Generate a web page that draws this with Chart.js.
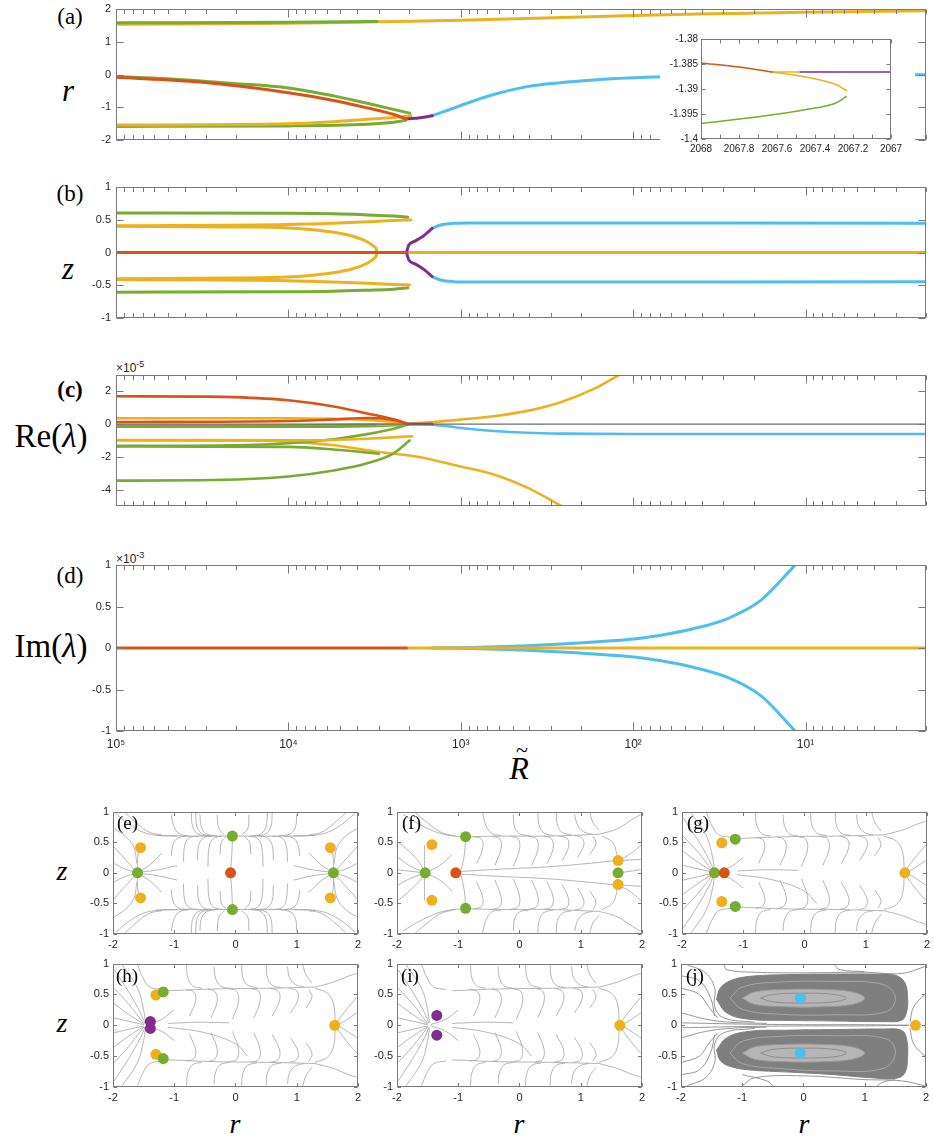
<!DOCTYPE html>
<html><head><meta charset="utf-8">
<script src="https://cdn.jsdelivr.net/npm/chart.js@4/dist/chart.umd.min.js"></script>
<style>
body{margin:0;background:#fff;}
#page{position:relative;width:934px;height:1138px;overflow:hidden;background:#fff;}
canvas{position:absolute;}
.t{position:absolute;transform:translate(-50%,-50%);white-space:nowrap;font-family:"Liberation Serif","Times New Roman",serif;color:#000;line-height:1;}
.p{position:absolute;white-space:nowrap;font-family:"Liberation Serif","Times New Roman",serif;color:#000;line-height:1;font-size:19px;}
.s{position:absolute;font-family:"Liberation Sans",Arial,sans-serif;font-size:12px;color:#262626;white-space:nowrap;line-height:1}
.s sup{font-size:9px;vertical-align:5px;line-height:0}
</style></head><body><div id="page">
<div class="t" style="left:70px;top:16px;font-size:23px">(a)</div>
<div class="t" style="left:70px;top:193px;font-size:23px">(b)</div>
<div class="t" style="left:70px;top:389px;font-size:23px;font-weight:bold">(c)</div>
<div class="t" style="left:70px;top:575px;font-size:23px">(d)</div>
<div class="t" style="left:68px;top:90px;font-size:31px;font-style:italic">r</div>
<div class="t" style="left:68px;top:268px;font-size:31px;font-style:italic">z</div>
<div class="t" style="left:51px;top:436px;font-size:33px">Re(<i>λ</i>)</div>
<div class="t" style="left:51px;top:646px;font-size:33px">Im(<i>λ</i>)</div>
<div class="s" style="left:116px;top:362px">×10<sup>-5</sup></div>
<div class="s" style="left:116px;top:553px">×10<sup>-3</sup></div>
<div class="t" style="left:519px;top:768px;font-size:32px;font-style:italic">R</div>
<div class="t" style="left:522px;top:750px;font-size:22px">~</div>
<div class="t" style="left:62px;top:871px;font-size:28px;font-style:italic">z</div>
<div class="t" style="left:62px;top:1023px;font-size:28px;font-style:italic">z</div>
<div class="t" style="left:235px;top:1124px;font-size:28px;font-style:italic">r</div>
<div class="t" style="left:519px;top:1124px;font-size:28px;font-style:italic">r</div>
<div class="t" style="left:804px;top:1124px;font-size:28px;font-style:italic">r</div>
</div>
<script>
// ---------------- DATA ----------------
const X_DECADES = [1e5, 1e4, 1e3, 1e2, 1e1];
const X_DECADE_LABELS = ['10⁵', '10⁴', '10³', '10²', '10¹'];
const A_TICKS = [-2, -1, 0, 1, 2];
const B_TICKS = [-1, -0.5, 0, 0.5, 1];
const C_TICKS = [-4, -2, 0, 2];
const D_TICKS = [-1, -0.5, 0, 0.5, 1];

// (a) r vs R
const A_GREEN_TOP = [[1e5,1.578],[1e4,1.594],[3060,1.619]];
const A_YELLOW_TOP = [[1e5,1.537],[1e4,1.562],[3060,1.61],[1000,1.659],[263,1.74],[98.6,1.805],[28.3,1.862],[10,1.903],[2,1.944]];
const A_GREEN_MID = [[1e5,-0.061],[50700,-0.126],[20800,-0.272],[1e4,-0.41],[5460,-0.653],[3490,-0.88],[1980,-1.18]];
const A_RED = [[1e5,-0.085],[32500,-0.231],[1e4,-0.556],[5460,-0.791],[3490,-1.018],[2448,-1.22],[2067,-1.36]];
const A_YELLOW_LOW = [[1e5,-1.545],[1e4,-1.505],[5460,-1.44],[3490,-1.367],[2240,-1.30],[1941,-1.26]];
const A_GREEN_LOW = [[1e5,-1.586],[1e4,-1.57],[3490,-1.52],[2448,-1.46],[2094,-1.40]];
const A_PURPLE = [[2067,-1.36],[1714,-1.318],[1466,-1.26]];
const A_CYAN = [[1466,-1.26],[1148,-1.06],[877,-0.84],[643,-0.61],[411,-0.37],[263,-0.25],[169,-0.17],[108,-0.11],[63,-0.07],[20,-0.03],[2.3,-0.005],[2,-0.004]];

// inset
const INS_X_TICKS = [2068, 2067.8, 2067.6, 2067.4, 2067.2, 2067];
const INS_X_LABELS = ['2068', '2067.8', '2067.6', '2067.4', '2067.2', '2067'];
const INS_X_MINOR = [2067.9, 2067.7, 2067.5, 2067.3, 2067.1];
const INS_Y_TICKS = [-1.4, -1.395, -1.39, -1.385, -1.38];
const INS_Y_LABELS = ['-1.4', '-1.395', '-1.39', '-1.385', '-1.38'];
const INS_RED = [[2068,-1.3848],[2067.8,-1.3856],[2067.626,-1.3866]];
const INS_ORANGE_FLAT = [[2067.626,-1.3866],[2067.477,-1.3866]];
const INS_ORANGE = [[2067.626,-1.3866],[2067.512,-1.3872],[2067.372,-1.3882],[2067.284,-1.3892],[2067.235,-1.3903]];
const INS_GREEN = [[2067.235,-1.3915],[2067.284,-1.3927],[2067.46,-1.3942],[2067.688,-1.3955],[2068,-1.3969]];
const INS_PURPLE = [[2067.477,-1.3866],[2067,-1.3866]];

// (b) z vs R
const B_GREEN_TOP = [[1e5,0.602],[1e4,0.598],[5460,0.59],[3490,0.574],[2448,0.558],[2030,0.54]];
const B_GREEN_BOT = [[1e5,-0.605],[1e4,-0.60],[5460,-0.592],[3490,-0.576],[2448,-0.56],[2030,-0.54]];
const B_YEL_OUT_TOP = [[1e5,0.408],[1e4,0.428],[5460,0.448],[3490,0.469],[2448,0.489],[1941,0.497]];
const B_YEL_OUT_BOT = [[1e5,-0.412],[1e4,-0.43],[5460,-0.45],[3490,-0.47],[2448,-0.488],[1980,-0.495]];
const B_YEL_IN_TOP = [[1e5,0.40],[20800,0.39],[1e4,0.375],[5460,0.31],[4180,0.245],[3490,0.164],[3200,0.095],[3084,0.043],[3060,0.0]];
const B_YEL_IN_BOT = [[1e5,-0.40],[20800,-0.39],[1e4,-0.375],[5460,-0.31],[4180,-0.245],[3490,-0.164],[3200,-0.095],[3084,-0.043],[3060,0.0]];
const B_RED = [[1e5,0],[2067,0]];
const B_YEL_ZERO = [[3060,0],[2,0]];
const B_PUR_TOP = [[2065,0.0],[2040,0.05],[2001,0.116],[1832,0.177],[1637,0.258],[1465,0.367]];
const B_PUR_BOT = [[2065,0.0],[2040,-0.05],[2001,-0.116],[1832,-0.177],[1637,-0.258],[1465,-0.367]];
const B_CYA_TOP = [[1465,0.367],[1310,0.42],[1097,0.445],[877,0.45],[2,0.448]];
const B_CYA_BOT = [[1465,-0.367],[1310,-0.42],[1097,-0.445],[877,-0.45],[2,-0.448]];

// (c) Re(lambda) x1e-5
const C_ZERO = [[1e5,0],[2,0]];
const C_RED_TOP = [[1e5,1.70],[32500,1.68],[20800,1.65],[1e4,1.46],[5460,1.08],[3490,0.65],[2448,0.29],[2050,0.03]];
const C_RED_LOW = [[1e5,0.13],[1e4,0.19],[5460,0.29],[3490,0.37],[2675,0.32],[2240,0.16],[2030,0.0]];
const C_YEL_TOP = [[1e5,0.36],[1e4,0.36],[5460,0.32],[3490,0.26],[2448,0.13],[2050,0.03]];
const C_GRN_A = [[1e5,-0.10],[1e4,-0.08],[3060,-0.03]];
const C_GRN_B = [[1e5,-0.16],[1e4,-0.16],[5460,-0.16],[3490,-0.13],[2448,-0.06],[2050,-0.02]];
const C_YEL_RISE = [[3060,-0.02],[2050,0.03],[1440,0.13],[1000,0.275],[643,0.485],[411,0.81],[263,1.34],[169,2.15],[121,3.0]];
const C_YEL_M1 = [[1e5,-0.97],[1e4,-0.99],[5460,-0.97],[3490,-0.89],[1914,-0.74]];
const C_YEL_DOWN = [[1e5,-1.0],[20800,-1.0],[1e4,-1.07],[5460,-1.29],[2990,-1.70],[1790,-1.99],[1000,-2.59],[643,-3.07],[411,-3.88],[263,-4.98]];
const C_GRN_UP = [[1e5,-1.33],[20800,-1.29],[1e4,-1.17],[5460,-0.92],[3490,-0.61],[2448,-0.28],[2030,-0.03]];
const C_GRN_DOWN = [[1e5,-1.36],[1e4,-1.39],[5460,-1.55],[2990,-1.81]];
const C_GRN_BOT = [[1e5,-3.45],[32500,-3.43],[1e4,-3.20],[5460,-2.83],[3490,-2.39],[2448,-1.78],[1980,-1.0]];
const C_PURPLE = [[2050,0.0],[1466,0.0]];
const C_CYAN = [[1466,-0.03],[1148,-0.15],[1000,-0.24],[643,-0.42],[411,-0.53],[263,-0.58],[100,-0.6],[2,-0.6]];

// (d) Im(lambda) x1e-3
const D_RED = [[1e5,0],[2067,0]];
const D_YEL = [[2067,0],[2,0]];
const D_CYA_TOP = [[1466,0],[1000,0.004],[411,0.028],[169,0.073],[98.6,0.109],[69,0.153],[44.3,0.234],[28.3,0.355],[18.1,0.577],[11.6,0.99]];
const D_CYA_BOT = [[1466,0],[1000,-0.004],[411,-0.028],[169,-0.073],[98.6,-0.109],[69,-0.153],[44.3,-0.234],[28.3,-0.355],[18.1,-0.577],[11.6,-0.99]];

// phase portraits
const PH_X_TICKS = [-2, -1, 0, 1, 2];
const PH_Y_TICKS = [-1, -0.5, 0, 0.5, 1];

const E_GREEN = [[-0.05,0.6],[-0.05,-0.6],[-1.6,0],[1.6,0]];
const E_RED = [[-0.08,0]];
const E_YELLOW = [[-1.55,0.41],[-1.55,-0.41],[1.55,0.41],[1.55,-0.41]];
const F_GREEN = [[-0.88,0.59],[-0.88,-0.58],[-1.54,0],[1.61,0]];
const F_RED = [[-1.04,0]];
const F_YELLOW = [[-1.43,0.46],[-1.43,-0.45],[1.61,0.2],[1.61,-0.19]];
const G_GREEN = [[-1.13,0.55],[-1.13,-0.55],[-1.47,0]];
const G_RED = [[-1.31,0]];
const G_YELLOW = [[-1.35,0.49],[-1.35,-0.47],[1.64,0]];
const H_YELLOW = [[-1.3,0.49],[-1.3,-0.47],[1.62,0]];
const H_GREEN = [[-1.18,0.54],[-1.18,-0.54]];
const H_PURPLE = [[-1.39,0.06],[-1.39,-0.05]];
const I_PURPLE = [[-1.35,0.16],[-1.35,-0.16]];
const I_YELLOW = [[1.64,0]];
const J_CYAN = [[-0.05,0.44],[-0.05,-0.45]];
const J_YELLOW = [[1.83,0]];

const STREAM_E = [
[-1.95,0.97,-1.75,0.8,-1.5,0.66,-1.25,0.61,-0.95,0.6],[-1.8,0.98,-1.6,0.8,-1.4,0.66,-1.2,0.62],
[-1.98,0.72,-1.8,0.6,-1.66,0.42,-1.61,0.15],[-1.98,0.42,-1.8,0.22,-1.63,0.03],[-1.98,0.15,-1.8,0.06,-1.63,0.01],
[-1.98,-0.15,-1.8,-0.06,-1.63,-0.01],[-1.98,-0.42,-1.8,-0.22,-1.63,-0.03],[-1.98,-0.72,-1.8,-0.6,-1.66,-0.42,-1.61,-0.15],
[-1.95,-0.97,-1.75,-0.8,-1.5,-0.66,-1.25,-0.61,-0.95,-0.6],[-1.8,-0.98,-1.6,-0.8,-1.4,-0.66,-1.2,-0.62],
[-1.57,0.45,-1.6,0.2,-1.6,0.03],[-1.57,-0.45,-1.6,-0.2,-1.6,-0.03],
[-0.95,0.12,-1.25,0.05,-1.56,0.01],[-0.95,-0.12,-1.25,-0.05,-1.56,-0.01],
[-1.2,0.32,-1.4,0.13,-1.57,0.02],[-1.2,-0.32,-1.4,-0.13,-1.57,-0.02],
[1.95,0.97,1.75,0.8,1.5,0.66,1.25,0.61,0.95,0.6],[1.8,0.98,1.6,0.8,1.4,0.66,1.2,0.62],
[1.98,0.72,1.8,0.6,1.66,0.42,1.61,0.15],[1.98,0.42,1.8,0.22,1.63,0.03],[1.98,0.15,1.8,0.06,1.63,0.01],
[1.98,-0.15,1.8,-0.06,1.63,-0.01],[1.98,-0.42,1.8,-0.22,1.63,-0.03],[1.98,-0.72,1.8,-0.6,1.66,-0.42,1.61,-0.15],
[1.95,-0.97,1.75,-0.8,1.5,-0.66,1.25,-0.61,0.95,-0.6],[1.8,-0.98,1.6,-0.8,1.4,-0.66,1.2,-0.62],
[1.57,0.45,1.6,0.2,1.6,0.03],[1.57,-0.45,1.6,-0.2,1.6,-0.03],
[0.95,0.12,1.25,0.05,1.56,0.01],[0.95,-0.12,1.25,-0.05,1.56,-0.01],
[1.2,0.32,1.4,0.13,1.57,0.02],[1.2,-0.32,1.4,-0.13,1.57,-0.02],
[-1.05,0.95,-1.0,0.75,-0.92,0.64,-0.75,0.6],[-0.72,0.98,-0.7,0.76,-0.62,0.64,-0.45,0.6],
[-0.65,0.98,-0.63,0.76,-0.55,0.64,-0.38,0.6],[-0.58,0.95,-0.56,0.76,-0.48,0.64,-0.3,0.6],
[-0.3,0.95,-0.27,0.72,-0.18,0.62],[0.22,0.95,0.2,0.72,0.1,0.62],
[0.52,0.98,0.5,0.76,0.42,0.64,0.25,0.6],[0.6,0.98,0.58,0.76,0.5,0.64,0.32,0.6],[1.0,0.95,0.98,0.75,0.9,0.64,0.7,0.6],
[-1.05,-0.95,-1.0,-0.75,-0.92,-0.64,-0.75,-0.6],[-0.72,-0.98,-0.7,-0.76,-0.62,-0.64,-0.45,-0.6],
[-0.65,-0.98,-0.63,-0.76,-0.55,-0.64,-0.38,-0.6],[-0.58,-0.95,-0.56,-0.76,-0.48,-0.64,-0.3,-0.6],
[-0.3,-0.95,-0.27,-0.72,-0.18,-0.62],[0.22,-0.95,0.2,-0.72,0.1,-0.62],
[0.52,-0.98,0.5,-0.76,0.42,-0.64,0.25,-0.6],[0.6,-0.98,0.58,-0.76,0.5,-0.64,0.32,-0.6],[1.0,-0.95,0.98,-0.75,0.9,-0.64,0.7,-0.6],
[-1.3,0.61,-0.7,0.6,-0.08,0.6],[1.3,0.61,0.7,0.6,0.0,0.6],[-1.3,-0.61,-0.7,-0.6,-0.08,-0.6],[1.3,-0.61,0.7,-0.6,0.0,-0.6],
[-1.05,0.28,-1.02,0.46,-0.94,0.57,-0.78,0.6],[-0.85,0.18,-0.83,0.44,-0.76,0.57,-0.6,0.6],
[-0.62,0.2,-0.6,0.45,-0.52,0.57,-0.38,0.6],[-0.45,0.1,-0.43,0.42,-0.36,0.56,-0.22,0.6],
[-0.25,0.3,-0.23,0.5,-0.15,0.59],[0.25,0.3,0.23,0.5,0.15,0.59],
[0.45,0.1,0.43,0.42,0.36,0.56,0.22,0.6],[0.62,0.2,0.6,0.45,0.52,0.57,0.38,0.6],
[0.85,0.18,0.83,0.44,0.76,0.57,0.6,0.6],[1.05,0.28,1.02,0.46,0.94,0.57,0.78,0.6],
[-1.05,-0.28,-1.02,-0.46,-0.94,-0.57,-0.78,-0.6],[-0.85,-0.18,-0.83,-0.44,-0.76,-0.57,-0.6,-0.6],
[-0.62,-0.2,-0.6,-0.45,-0.52,-0.57,-0.38,-0.6],[-0.45,-0.1,-0.43,-0.42,-0.36,-0.56,-0.22,-0.6],
[-0.25,-0.3,-0.23,-0.5,-0.15,-0.59],[0.25,-0.3,0.23,-0.5,0.15,-0.59],
[0.45,-0.1,0.43,-0.42,0.36,-0.56,0.22,-0.6],[0.62,-0.2,0.6,-0.45,0.52,-0.57,0.38,-0.6],
[0.85,-0.18,0.83,-0.44,0.76,-0.57,0.6,-0.6],[1.05,-0.28,1.02,-0.46,0.94,-0.57,0.78,-0.6],
[-0.05,0.58,-0.06,0.3,-0.08,0.03],[-0.05,-0.58,-0.06,-0.3,-0.08,-0.03]
];

const STREAM_F = [
[-1.98,0.5,-1.8,0.35,-1.62,0.15,-1.56,0.02],[-1.98,0.25,-1.8,0.12,-1.57,0.01],[-1.98,0.05,-1.57,0.0],
[-1.98,-0.2,-1.8,-0.1,-1.57,-0.01],[-1.98,-0.45,-1.8,-0.3,-1.62,-0.12,-1.56,-0.02],
[-1.55,0.45,-1.55,0.2,-1.55,0.03],[-1.55,-0.45,-1.55,-0.2,-1.55,-0.03],
[-1.9,0.95,-1.65,0.8,-1.4,0.68,-1.15,0.61,-0.92,0.59],[-1.7,0.98,-1.5,0.82,-1.3,0.67,-1.05,0.6],
[-1.9,-0.95,-1.65,-0.8,-1.4,-0.68,-1.15,-0.61,-0.92,-0.59],[-1.7,-0.98,-1.5,-0.82,-1.3,-0.67,-1.05,-0.6],
[-1.1,0.3,-1.3,0.12,-1.5,0.02],[-1.1,-0.3,-1.3,-0.12,-1.5,-0.02],
[1.3,0.63,0.5,0.6,-0.2,0.6,-0.85,0.59],[1.3,-0.63,0.5,-0.6,-0.2,-0.6,-0.85,-0.59],
[1.3,0.63,1.6,0.72,1.85,0.88,1.98,0.95],[1.3,-0.63,1.6,-0.72,1.85,-0.88,1.98,-0.95],
[1.35,0.6,1.52,0.5,1.58,0.35,1.6,0.22],[1.35,-0.6,1.52,-0.5,1.58,-0.35,1.6,-0.22],
[1.98,0.45,1.8,0.3,1.63,0.21],[1.98,0.22,1.63,0.2],[1.98,-0.22,1.63,-0.2],[1.98,-0.45,1.8,-0.3,1.63,-0.21],[1.98,0.05,1.63,0.0],
[-0.6,0.98,-0.55,0.78,-0.45,0.64,-0.3,0.61],[-0.1,0.95,-0.08,0.75,0.0,0.64,0.15,0.61],
[0.3,0.98,0.32,0.78,0.4,0.65,0.55,0.61],[0.6,0.98,0.62,0.78,0.7,0.66,0.85,0.62],
[0.9,0.95,0.95,0.78,1.05,0.67,1.2,0.63],[1.15,0.98,1.2,0.82,1.3,0.7],
[-0.6,-0.98,-0.55,-0.78,-0.45,-0.64,-0.3,-0.61],[-0.1,-0.95,-0.08,-0.75,0.0,-0.64,0.15,-0.61],
[0.3,-0.98,0.32,-0.78,0.4,-0.65,0.55,-0.61],[0.6,-0.98,0.62,-0.78,0.7,-0.66,0.85,-0.62],
[0.9,-0.95,0.95,-0.78,1.05,-0.67,1.2,-0.63],[1.15,-0.98,1.2,-0.82,1.3,-0.7],
[-0.7,0.15,-0.6,0.4,-0.62,0.55,-0.75,0.59],[-0.4,0.12,-0.3,0.4,-0.32,0.55,-0.45,0.6],
[-0.1,0.1,0.0,0.38,-0.02,0.55,-0.15,0.6],[0.2,0.12,0.3,0.38,0.28,0.55,0.15,0.6],
[0.45,0.15,0.55,0.4,0.52,0.56,0.4,0.6],[0.7,0.2,0.8,0.42,0.78,0.56,0.65,0.6],
[0.95,0.25,1.05,0.45,1.02,0.57,0.9,0.61],[1.15,0.3,1.25,0.48,1.2,0.6],
[-0.7,-0.15,-0.6,-0.4,-0.62,-0.55,-0.75,-0.59],[-0.4,-0.12,-0.3,-0.4,-0.32,-0.55,-0.45,-0.6],
[-0.1,-0.1,0.0,-0.38,-0.02,-0.55,-0.15,-0.6],[0.2,-0.12,0.3,-0.38,0.28,-0.55,0.15,-0.6],
[0.45,-0.15,0.55,-0.4,0.52,-0.56,0.4,-0.6],[0.7,-0.2,0.8,-0.42,0.78,-0.56,0.65,-0.6],
[0.95,-0.25,1.05,-0.45,1.02,-0.57,0.9,-0.61],[1.15,-0.3,1.25,-0.48,1.2,-0.6],
[-1.0,0.02,-0.3,0.06,0.5,0.1,1.2,0.16,1.58,0.2],[-1.0,-0.02,-0.3,-0.06,0.5,-0.1,1.2,-0.16,1.58,-0.2],
[-0.95,0.05,-0.9,0.3,-0.88,0.56],[-0.95,-0.05,-0.9,-0.3,-0.88,-0.56]
];

const STREAM_G = [
[-1.98,0.9,-1.75,0.55,-1.55,0.2,-1.48,0.03],[-1.98,0.6,-1.75,0.35,-1.5,0.03],[-1.98,0.35,-1.75,0.18,-1.5,0.02],
[-1.98,0.12,-1.5,0.01],[-1.98,-0.12,-1.5,-0.01],[-1.98,-0.35,-1.75,-0.18,-1.5,-0.02],
[-1.98,-0.6,-1.75,-0.35,-1.5,-0.03],[-1.98,-0.9,-1.75,-0.55,-1.55,-0.2,-1.48,-0.03],
[-1.85,0.98,-1.6,0.6,-1.5,0.25,-1.47,0.04],[-1.85,-0.98,-1.6,-0.6,-1.5,-0.25,-1.47,-0.04],
[-1.6,0.98,-1.5,0.75,-1.4,0.62,-1.2,0.58],[-1.6,-0.98,-1.5,-0.75,-1.4,-0.62,-1.2,-0.58],
[-1.0,0.25,-1.2,0.1,-1.45,0.01],[-1.0,-0.25,-1.2,-0.1,-1.45,-0.01],
[1.3,0.62,0.5,0.6,-0.3,0.59,-1.1,0.56],[1.3,-0.62,0.5,-0.6,-0.3,-0.59,-1.1,-0.56],
[1.3,0.62,1.6,0.7,1.85,0.8,1.98,0.84],[1.3,-0.62,1.6,-0.7,1.85,-0.8,1.98,-0.84],
[1.3,0.6,1.5,0.52,1.6,0.35,1.63,0.03],[1.3,-0.6,1.5,-0.52,1.6,-0.35,1.63,-0.03],
[1.98,0.45,1.85,0.3,1.68,0.08,1.65,0.01],[1.98,0.2,1.8,0.08,1.66,0.0],
[1.98,-0.2,1.8,-0.08,1.66,0.0],[1.98,-0.45,1.85,-0.3,1.68,-0.08,1.65,-0.01],
[-0.8,0.98,-0.78,0.78,-0.7,0.64,-0.55,0.6],[-0.35,0.95,-0.33,0.78,-0.25,0.64,-0.1,0.6],
[0.1,0.98,0.12,0.78,0.2,0.65,0.35,0.61],[0.5,0.98,0.52,0.78,0.6,0.65,0.75,0.61],
[0.85,0.95,0.88,0.78,0.98,0.66,1.12,0.62],[1.1,0.98,1.15,0.82,1.25,0.68],
[-0.8,-0.98,-0.78,-0.78,-0.7,-0.64,-0.55,-0.6],[-0.35,-0.95,-0.33,-0.78,-0.25,-0.64,-0.1,-0.6],
[0.1,-0.98,0.12,-0.78,0.2,-0.65,0.35,-0.61],[0.5,-0.98,0.52,-0.78,0.6,-0.65,0.75,-0.61],
[0.85,-0.95,0.88,-0.78,0.98,-0.66,1.12,-0.62],[1.1,-0.98,1.15,-0.82,1.25,-0.68],
[-0.75,0.15,-0.65,0.4,-0.68,0.54,-0.8,0.58],[-0.4,0.12,-0.3,0.38,-0.33,0.54,-0.45,0.59],
[-0.05,0.1,0.05,0.38,0.02,0.55,-0.1,0.59],[0.3,0.12,0.4,0.38,0.38,0.55,0.25,0.6],
[0.6,0.15,0.72,0.4,0.7,0.55,0.57,0.6],[0.9,0.2,1.02,0.42,1.0,0.56,0.88,0.6],[1.15,0.28,1.25,0.46,1.2,0.58],
[-0.75,-0.15,-0.65,-0.4,-0.68,-0.54,-0.8,-0.58],[-0.4,-0.12,-0.3,-0.38,-0.33,-0.54,-0.45,-0.59],
[-0.05,-0.1,0.05,-0.38,0.02,-0.55,-0.1,-0.59],[0.3,-0.12,0.4,-0.38,0.38,-0.55,0.25,-0.6],
[0.6,-0.15,0.72,-0.4,0.7,-0.55,0.57,-0.6],[0.9,-0.2,1.02,-0.42,1.0,-0.56,0.88,-0.6],[1.15,-0.28,1.25,-0.46,1.2,-0.58],
[-1.1,0.03,-0.6,0.05,-0.1,0.04],[-1.1,-0.03,-0.5,-0.12,0.0,-0.3,0.2,-0.5]
];

const J_LOBE_TOP = [-1.42,0.42,-1.36,0.6,-1.2,0.72,-0.9,0.79,-0.3,0.82,0.5,0.83,1.2,0.83,1.5,0.81,1.65,0.7,1.7,0.45,1.68,0.2,1.6,0.08,1.3,0.06,0.5,0.07,-0.3,0.08,-0.9,0.1,-1.25,0.2,-1.42,0.42];
const J_LOBE_BOT = [-1.42,-0.4,-1.35,-0.58,-1.15,-0.68,-0.8,-0.73,-0.2,-0.76,0.5,-0.8,1.1,-0.85,1.5,-0.86,1.65,-0.78,1.7,-0.5,1.68,-0.2,1.6,-0.08,1.3,-0.06,0.5,-0.07,-0.3,-0.08,-0.9,-0.1,-1.25,-0.2,-1.42,-0.4];
const J_CORE_TOP = [-1.0,0.44,-0.8,0.54,-0.3,0.58,0.3,0.58,0.8,0.54,1.0,0.44,0.8,0.34,0.3,0.3,-0.3,0.3,-0.8,0.34,-1.0,0.44];
const J_CORE_BOT = [-1.0,-0.45,-0.8,-0.55,-0.3,-0.59,0.3,-0.59,0.8,-0.55,1.0,-0.45,0.8,-0.35,0.3,-0.31,-0.3,-0.31,-0.8,-0.35,-1.0,-0.45];
const J_ORBITS = [
[-0.7,0.44,-0.5,0.5,0.0,0.52,0.5,0.5,0.7,0.44,0.5,0.38,0.0,0.36,-0.5,0.38,-0.7,0.44],
[-0.7,-0.45,-0.5,-0.51,0.0,-0.53,0.5,-0.51,0.7,-0.45,0.5,-0.39,0.0,-0.37,-0.5,-0.39,-0.7,-0.45],
[-1.2,0.44,-1.0,0.62,-0.4,0.7,0.5,0.71,1.3,0.66,1.5,0.45,1.35,0.22,0.5,0.17,-0.4,0.18,-1.0,0.26,-1.2,0.44],
[-1.2,-0.45,-1.0,-0.62,-0.4,-0.7,0.5,-0.74,1.3,-0.7,1.5,-0.46,1.35,-0.22,0.5,-0.17,-0.4,-0.18,-1.0,-0.26,-1.2,-0.45]
];
const STREAM_J = [
[-1.98,0.04,-1.0,0.02,0.0,0.01,1.0,0.01,1.72,0.0],[-1.98,-0.04,-1.0,-0.02,0.0,-0.01,1.0,-0.01,1.72,0.0],
[-1.98,0.2,-1.6,0.1,-1.2,0.05,-0.6,0.03],[-1.98,-0.2,-1.6,-0.1,-1.2,-0.05,-0.6,-0.03],
[-1.9,0.98,-1.6,0.85,-1.45,0.6,-1.45,0.3,-1.3,0.12,-0.8,0.05],[-1.9,-0.98,-1.6,-0.85,-1.45,-0.6,-1.45,-0.3,-1.3,-0.12,-0.8,-0.05],
[-1.98,0.6,-1.7,0.5,-1.55,0.3,-1.4,0.12],[-1.98,-0.6,-1.7,-0.5,-1.55,-0.3,-1.4,-0.12],
[-1.98,0.8,-1.7,0.72,-1.52,0.45,-1.45,0.15],[-1.98,-0.8,-1.7,-0.72,-1.52,-0.45,-1.45,-0.15],
[-1.3,0.98,-1.25,0.9,-0.8,0.86,0.0,0.85,1.0,0.86,1.6,0.84,1.98,0.95],[-1.0,-0.98,-0.8,-0.85,0.0,-0.82,1.0,-0.88,1.6,-0.9,1.98,-0.98],
[0.5,0.98,0.6,0.9,1.0,0.87],[1.98,0.5,1.8,0.3,1.74,0.05],[1.98,-0.5,1.8,-0.3,1.74,-0.05],
[-0.5,-0.98,-0.6,-0.9,-1.0,-0.8],[1.2,-0.98,1.3,-0.92,1.5,-0.88]
];

// ---------------- RENDERING ----------------
const COL = {red:'#D95319', yel:'#EDB120', grn:'#77AC30', pur:'#7E2F8E', cya:'#4DBEEE'};
Chart.defaults.font.family = '"Liberation Sans", Arial, Helvetica, sans-serif';
Chart.defaults.color = '#262626';
const page = document.getElementById('page');
function addCanvas(left, top, w, h, bg){
  const c = document.createElement('canvas');
  c.width = w; c.height = h;
  c.style.left = left + 'px'; c.style.top = top + 'px';
  c.style.width = w + 'px'; c.style.height = h + 'px';
  if (bg) c.style.background = bg;
  page.appendChild(c);
  return c;
}
const X_MINOR = [];
for (const d of [1e4, 1e3, 1e2, 1e1, 1]) for (let k = 2; k <= 9; k++) if (k*d >= 2 && k*d < 1e5) X_MINOR.push(k*d);

const boxTicks = {
  id: 'boxTicks',
  afterDraw(chart, args, o){
    const {ctx, chartArea:a} = chart; const xs = chart.scales.x, ys = chart.scales.y;
    const L = Math.round(a.left)+0.5, R = Math.round(a.right)-0.5, T = Math.round(a.top)+0.5, B = Math.round(a.bottom)-0.5;
    ctx.save(); ctx.strokeStyle = o.color; ctx.lineWidth = 1;
    ctx.beginPath();
    const tx = (vals, len) => { for (const v of vals){ const p = Math.round(xs.getPixelForValue(v))+0.5; if (p < a.left-1 || p > a.right+1) continue; ctx.moveTo(p,B); ctx.lineTo(p,B-len); ctx.moveTo(p,T); ctx.lineTo(p,T+len);} };
    const ty = (vals, len) => { for (const v of vals){ const p = Math.round(ys.getPixelForValue(v))+0.5; ctx.moveTo(L,p); ctx.lineTo(L+len,p); ctx.moveTo(R,p); ctx.lineTo(R-len,p);} };
    tx(o.xMajor||[], o.xLen); tx(o.xMinor||[], o.xMinorLen||o.xLen); ty(o.yMajor||[], o.yLen);
    ctx.stroke();
    ctx.strokeRect(L, T, R-L, B-T);
    ctx.restore();
  }
};
const pts = arr => arr.map(p => ({x:p[0], y:p[1]}));
const flat = a => { const p = []; for (let i = 0; i < a.length; i += 2) p.push({x:a[i], y:a[i+1]}); return p; };
function ln(arr, color, w, order){
  return {data: pts(arr), borderColor: color, backgroundColor: color, borderWidth: w, pointRadius: 0, showLine: true,
    cubicInterpolationMode: 'monotone', order, fill: false, borderCapStyle: 'round'};
}
function streams(list, color, width){
  return list.map(a => ({data: flat(a), borderColor: color||'#a3a3a3', borderWidth: width||0.8, pointRadius: 0, showLine: true, tension: 0.4, order: 30, fill: false}));
}
function dots(arr, color, order){
  return {data: pts(arr), backgroundColor: color, borderWidth: 0, pointRadius: 5.5, pointStyle: 'circle', showLine: false, order};
}
const baseOpts = {responsive:false, animation:false, events:[], devicePixelRatio:1};

function mainPanel(top, h, yMin, yMax, yTicks, datasets, showX){
  const padT = 12, padB = showX ? 0 : 12, xH = 34;
  const cv = addCanvas(0, top - padT, 934, h + padT + (showX ? xH : padB));
  new Chart(cv, {type:'scatter', data:{datasets}, plugins:[boxTicks], options: Object.assign({}, baseOpts, {
    layout:{padding:{top:padT, right:8, bottom:padB, left:0}},
    plugins:{legend:{display:false}, tooltip:{enabled:false},
      boxTicks:{color:'#7a7a7a', xMajor:X_DECADES, xMinor:X_MINOR, xLen:8, xMinorLen:4.5, yMajor:yTicks, yLen:7}},
    scales:{
      x:{type:'logarithmic', min:2, max:1e5, reverse:true, display:showX,
         grid:{display:false, drawTicks:false}, border:{display:false},
         afterBuildTicks: s => { s.ticks = X_DECADES.map(v => ({value:v})); },
         afterFit: s => { s.height = xH; },
         ticks:{autoSkip:false, maxRotation:0, padding:6, font:{size:12}, color:'#262626',
           callback: v => X_DECADE_LABELS[X_DECADES.indexOf(v)]}},
      y:{type:'linear', min:yMin, max:yMax, grid:{display:false, drawTicks:false}, border:{display:false},
         afterBuildTicks: s => { s.ticks = yTicks.map(v => ({value:v})); },
         afterFit: s => { s.width = 116; },
         ticks:{padding:5, font:{size:11}, color:'#262626', callback: v => String(v)}}
    }})});
}

// (a)
mainPanel(9, 165, -2, 2, A_TICKS, [
  ln(A_RED, COL.red, 3, 1), ln(A_PURPLE, COL.pur, 3, 1), ln(A_CYAN, COL.cya, 3, 1),
  ln(A_GREEN_TOP, COL.grn, 3, 2), ln(A_GREEN_MID, COL.grn, 3, 2), ln(A_GREEN_LOW, COL.grn, 3, 3),
  ln(A_YELLOW_TOP, COL.yel, 3, 3), ln(A_YELLOW_LOW, COL.yel, 3, 2)
], false);
// (b)
mainPanel(187, 165, -1, 1, B_TICKS, [
  ln(B_RED, COL.red, 3, 1), ln(B_YEL_ZERO, COL.yel, 3, 2),
  ln(B_GREEN_TOP, COL.grn, 3, 2), ln(B_GREEN_BOT, COL.grn, 3, 2),
  ln(B_YEL_OUT_TOP, COL.yel, 3, 3), ln(B_YEL_OUT_BOT, COL.yel, 3, 3),
  ln(B_YEL_IN_TOP, COL.yel, 3, 3), ln(B_YEL_IN_BOT, COL.yel, 3, 3),
  ln(B_PUR_TOP, COL.pur, 3, 1), ln(B_PUR_BOT, COL.pur, 3, 1),
  ln(B_CYA_TOP, COL.cya, 3, 1), ln(B_CYA_BOT, COL.cya, 3, 1)
], false);
// (c)
mainPanel(375, 165, -5, 3, C_TICKS, [
  ln(C_ZERO, '#6e6e6e', 1.3, 0),
  ln(C_RED_TOP, COL.red, 2.6, 1), ln(C_RED_LOW, COL.red, 2.6, 1),
  ln(C_YEL_TOP, COL.yel, 2.6, 2), ln(C_YEL_RISE, COL.yel, 2.6, 2), ln(C_YEL_M1, COL.yel, 2.6, 2), ln(C_YEL_DOWN, COL.yel, 2.6, 3),
  ln(C_GRN_A, COL.grn, 2.6, 2), ln(C_GRN_B, COL.grn, 2.6, 2), ln(C_GRN_UP, COL.grn, 2.6, 2), ln(C_GRN_DOWN, COL.grn, 2.6, 2), ln(C_GRN_BOT, COL.grn, 2.6, 2),
  ln(C_PURPLE, COL.pur, 2.6, 1), ln(C_CYAN, COL.cya, 2.6, 1)
], false);
// (d)
mainPanel(565, 166, -1, 1, D_TICKS, [
  ln(D_RED, COL.red, 3, 1), ln(D_YEL, COL.yel, 3, 1),
  ln(D_CYA_TOP, COL.cya, 3, 2), ln(D_CYA_BOT, COL.cya, 3, 2)
], true);

// inset
(function(){
  const cv = addCanvas(660, 28, 255, 130, '#fff');
  new Chart(cv, {type:'scatter', data:{datasets:[
      ln(INS_RED, COL.red, 1.6, 2), ln(INS_ORANGE_FLAT, COL.yel, 1.6, 2), ln(INS_ORANGE, COL.yel, 1.6, 2),
      ln(INS_GREEN, COL.grn, 1.6, 2), ln(INS_PURPLE, COL.pur, 1.6, 1)]},
    plugins:[boxTicks], options: Object.assign({}, baseOpts, {
    layout:{padding:{top:11, right:24, bottom:0, left:0}},
    plugins:{legend:{display:false}, tooltip:{enabled:false},
      boxTicks:{color:'#7a7a7a', xMajor:INS_X_TICKS, xMinor:INS_X_MINOR, xLen:4, yMajor:INS_Y_TICKS, yLen:4}},
    scales:{
      x:{type:'linear', min:2067, max:2068, reverse:true, grid:{display:false, drawTicks:false}, border:{display:false},
         afterBuildTicks: s => { s.ticks = INS_X_TICKS.map(v => ({value:v})); },
         afterFit: s => { s.height = 19; },
         ticks:{autoSkip:false, maxRotation:0, padding:4, font:{size:10}, color:'#262626',
           callback: (v) => INS_X_LABELS[INS_X_TICKS.findIndex(t => Math.abs(t - v) < 1e-6)]}},
      y:{type:'linear', min:-1.4, max:-1.38, grid:{display:false, drawTicks:false}, border:{display:false},
         afterBuildTicks: s => { s.ticks = INS_Y_TICKS.map(v => ({value:v})); },
         afterFit: s => { s.width = 41; },
         ticks:{padding:3, font:{size:10}, color:'#262626',
           callback: (v) => INS_Y_LABELS[INS_Y_TICKS.findIndex(t => Math.abs(t - v) < 1e-9)]}}
    }})});
})();

function phasePanel(L, T, W, H, datasets){
  const padL = 40, padT = 10, padR = 6, xH = 24;
  const cv = addCanvas(L - padL, T - padT, W + padL + padR, H + padT + xH);
  new Chart(cv, {type:'scatter', data:{datasets}, plugins:[boxTicks], options: Object.assign({}, baseOpts, {
    layout:{padding:{top:padT, right:padR, bottom:0, left:0}},
    plugins:{legend:{display:false}, tooltip:{enabled:false},
      boxTicks:{color:'#7a7a7a', xMajor:PH_X_TICKS, xLen:3.5, yMajor:PH_Y_TICKS, yLen:3.5}},
    scales:{
      x:{type:'linear', min:-2, max:2, grid:{display:false, drawTicks:false}, border:{display:false},
         afterBuildTicks: s => { s.ticks = PH_X_TICKS.map(v => ({value:v})); },
         afterFit: s => { s.height = xH; },
         ticks:{autoSkip:false, maxRotation:0, padding:4, font:{size:11}, color:'#262626', callback: v => String(v)}},
      y:{type:'linear', min:-1, max:1, grid:{display:false, drawTicks:false}, border:{display:false},
         afterBuildTicks: s => { s.ticks = PH_Y_TICKS.map(v => ({value:v})); },
         afterFit: s => { s.width = padL; },
         ticks:{padding:4, font:{size:11}, color:'#262626', callback: v => String(v)}}
    }})});
}

phasePanel(113, 811, 246, 123, [dots(E_RED, COL.red, 0), dots(E_GREEN, COL.grn, 1), dots(E_YELLOW, COL.yel, 2), ...streams(STREAM_E)]);
phasePanel(397, 811, 246, 123, [dots(F_RED, COL.red, 0), dots(F_GREEN, COL.grn, 1), dots(F_YELLOW, COL.yel, 2), ...streams(STREAM_F)]);
phasePanel(682, 811, 246, 123, [dots(G_RED, COL.red, 0), dots(G_GREEN, COL.grn, 1), dots(G_YELLOW, COL.yel, 2), ...streams(STREAM_G)]);
phasePanel(113, 963, 246, 124, [dots(H_PURPLE, COL.pur, 0), dots(H_GREEN, COL.grn, 1), dots(H_YELLOW, COL.yel, 2), ...streams(STREAM_G)]);
phasePanel(397, 963, 246, 124, [dots(I_PURPLE, COL.pur, 0), dots(I_YELLOW, COL.yel, 2), ...streams(STREAM_G)]);
phasePanel(681, 963, 246, 124, [dots(J_CYAN, COL.cya, 0), dots(J_YELLOW, COL.yel, 1),
  ...J_ORBITS.map((a, i) => ({data: flat(a), showLine:true, borderColor: i < 2 ? '#8e8e8e' : '#a8a8a8', borderWidth:1, pointRadius:0, tension:0.4, order:15, fill:false})),
  {data: flat(J_CORE_TOP), showLine:true, fill:'shape', backgroundColor:'#b5b5b5', borderColor:'#9a9a9a', borderWidth:1, pointRadius:0, tension:0.4, order:20},
  {data: flat(J_CORE_BOT), showLine:true, fill:'shape', backgroundColor:'#b5b5b5', borderColor:'#9a9a9a', borderWidth:1, pointRadius:0, tension:0.4, order:21},
  {data: flat(J_LOBE_TOP), showLine:true, fill:'shape', backgroundColor:'#7f7f7f', borderColor:'#7f7f7f', borderWidth:1, pointRadius:0, tension:0.4, order:40},
  {data: flat(J_LOBE_BOT), showLine:true, fill:'shape', backgroundColor:'#7f7f7f', borderColor:'#7f7f7f', borderWidth:1, pointRadius:0, tension:0.4, order:41},
  ...streams(STREAM_J, '#8a8a8a', 0.9)]);

// panel letters in phase portraits
[['(e)',117,813],['(f)',402,813],['(g)',687,813],['(h)',116,966],['(i)',401,966],['(j)',686,966]].forEach(([t,x,y]) => {
  const d = document.createElement('div'); d.className = 'p'; d.textContent = t;
  d.style.left = x + 'px'; d.style.top = y + 'px'; page.appendChild(d);
});
</script>
</body></html>
